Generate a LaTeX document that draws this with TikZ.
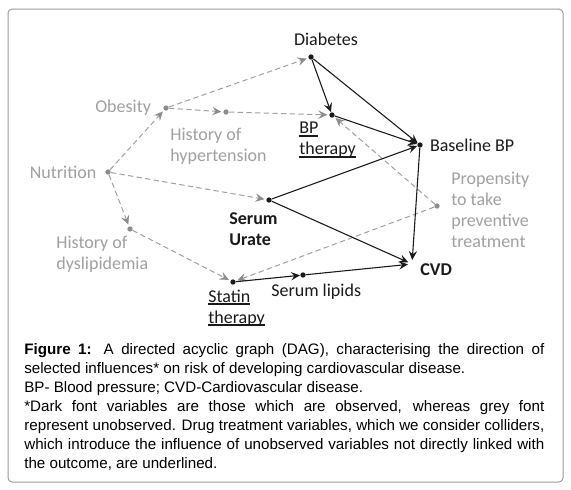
\documentclass[tikz,border=0pt]{standalone}
\usepackage{fontspec}
\setmainfont{Carlito}
\newfontfamily\capfont{Liberation Sans}
\usetikzlibrary{positioning,arrows.meta,calc}
\definecolor{inkc}{HTML}{1A1A1A}
\definecolor{greyc}{HTML}{A0A0A0}
\definecolor{tipc}{HTML}{8C8C8C}
\definecolor{framec}{HTML}{9A9A9A}
\newcommand{\uln}[1]{\setbox0\hbox{#1}\rlap{\rule[-2pt]{\wd0}{1.2pt}}\box0}
\tikzset{
  dot/.style ={circle,fill=inkc,inner sep=0pt,minimum size=3.2pt},
  dotU/.style={dot,fill=tipc},
  obs/.style ={font=\fontsize{10.8}{12.6}\selectfont,text=inkc,inner sep=0pt,align=left},
  obsB/.style={obs,font=\fontsize{10.8}{12.6}\selectfont\bfseries},
  uno/.style ={obs,text=greyc},
  ar/.style  ={-{Stealth[length=5.4pt,width=5pt,inset=2pt]},draw=inkc,line width=.65pt},
  arU/.style ={-{Stealth[length=5.4pt,width=5pt,inset=2pt,color=tipc]},draw=greyc,
               line width=.6pt,dash pattern=on 3.2pt off 2pt,shorten >=1pt},
}
\begin{document}
\begin{tikzpicture}[x=0.6pt,y=-0.6pt]
\useasboundingbox (0,0) rectangle (571,489);
\draw[framec,line width=.6pt,rounded corners=2.5pt] (8,9) rectangle (563,482);

% ---------- observed variables ----------
\node[dot] (diab)  at (311,57)  {};
\node[dot] (bpth)  at (332,115) {};
\node[dot] (base)  at (420,145) {};
\node[dot] (urate) at (269,200) {};
\node[dot] (stat)  at (233,282) {};
\node[dot] (lipid) at (303,275) {};
\node[circle,inner sep=0pt,minimum size=4.5pt] (cvd) at (412,264) {};

% ---------- unobserved variables ----------
\node[dotU] (obes) at (166,108) {};
\node[dotU] (hhyp) at (226,112) {};
\node[dotU] (nutr) at (108,172) {};
\node[dotU] (dysl) at (130,229) {};
\node[dotU] (prop) at (437,206) {};

% ---------- labels ----------
\node[obs] (diabL) at (326,39) {Diabetes};
\node[obs,right=4pt of base] (baseL) {Baseline BP};
\node[obs,anchor=west] (bpthL) at (299,140) {\uln{BP}\\\uln{therapy}};
\node[obsB,anchor=west] (urateL) at (229,229) {Serum\\Urate};
\node[obsB,anchor=west] (cvdL) at (420,270) {CVD};
\node[obs,anchor=west] (statL) at (208,308) {\uln{Statin}\\\uln{therapy}};
\node[obs,anchor=west] (lipidL) at (271,292) {Serum lipids};
\node[uno,left=7pt of obes] (obesL) {Obesity};
\node[uno,anchor=west] (hhypL) at (170,146) {History of\\hypertension};
\node[uno,left=5pt of nutr] (nutrL) {Nutrition};
\node[uno,anchor=west] (dyslL) at (56,254) {History of\\dyslipidemia};
\node[uno,anchor=west] (propL) at (451,210) {Propensity\\to take\\preventive\\treatment};

% ---------- unobserved paths ----------
\draw[arU] (nutr) -- (obes);
\draw[arU] (nutr) -- (urate);
\draw[arU] (nutr) -- (dysl);
\draw[arU] (obes) -- (diab);
\draw[arU] (obes) -- (hhyp);
\draw[arU] (hhyp) -- (bpth);
\draw[arU] (prop) -- (bpth);
\draw[arU] (prop) -- (stat);
\draw[arU] (dysl) -- (stat);

% ---------- observed paths ----------
\draw[ar] (diab) -- (bpth);
\draw[ar] (diab) -- (base);
\draw[ar] (bpth) -- (base);
\draw[ar] (urate) -- (base);
\draw[ar] (urate) -- (cvd);
\draw[ar] (base) -- (cvd);
\draw[ar] (stat) -- (lipid);
\draw[ar] (lipid) -- (cvd);

% ---------- caption ----------
\node[anchor=north west,inner sep=0pt,text width=312pt,align=justify,
      font=\capfont\fontsize{9.1}{11.4}\selectfont] (cap) at (24,343)
  {\hyphenpenalty=10000 \textbf{Figure 1:} A directed acyclic graph (DAG), characterising the direction of\linebreak
   selected influences* on risk of developing cardiovascular disease.\\
   BP- Blood pressure; CVD-Cardiovascular disease.\\
   {*}Dark font variables are those which are observed, whereas grey font\linebreak
   represent unobserved. Drug treatment variables, which we consider colliders,\linebreak
   which introduce the influence of unobserved variables not directly linked with\linebreak
   the outcome, are underlined.};
\end{tikzpicture}
\end{document}
